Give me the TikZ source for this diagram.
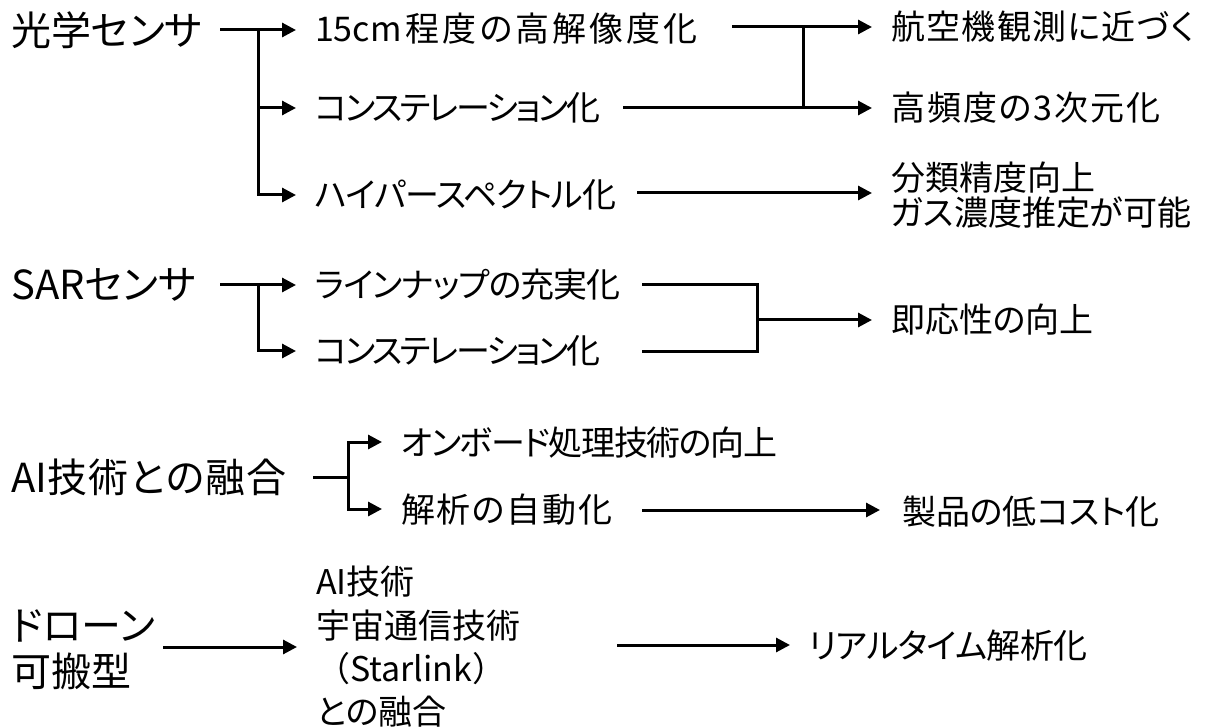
\documentclass[tikz,border=0pt]{standalone}
\usepackage{fontspec}
\setmainfont{Noto Sans CJK JP}[RawFeature={+palt}]
\newfontfamily\jpfull{Noto Sans CJK JP}
\usetikzlibrary{arrows.meta}
\newcommand{\ls}[1]{\addfontfeature{LetterSpace=#1}}
\tikzset{
  big/.style={font=\fontsize{40}{46}\selectfont, inner sep=0pt, anchor=west, text height=35pt, text depth=5pt},
  bigm/.style={font=\fontsize{40}{46}\selectfont, inner sep=0pt, anchor=west, align=left},
  mid/.style={font=\fontsize{34}{40}\selectfont, inner sep=0pt, anchor=west, text height=30pt, text depth=4pt},
  midm/.style={inner sep=0pt, anchor=west, align=left},
  tx/.style={outer xsep=19pt},
  conn/.style={line width=3pt, line join=miter},
  arr/.style={conn, -{Triangle[length=14pt,width=14pt]}},
}
\begin{document}
\begin{tikzpicture}[x=1pt,y=-1pt]
\useasboundingbox (0,0) rectangle (1208,727);
% ---------- row 1: optical sensor
\node[big] (n1) at (11,31) {光学センサ};
\node[mid,tx] (t1a) at (296,29) {15cm\hspace{4pt}{\ls{9}程度の高解像度化}};
\node[mid,tx] (t1b) at (296,108) {\ls{-7}コンステレーション化};
\node[mid,tx] (t1c) at (296,195) {\ls{-3}ハイパースペクトル化};
\coordinate (s1) at (220,30);
\coordinate (j1) at (258,30);
\draw[arr] (s1) -- (s1 -| t1a.west);
\draw[arr] (j1) |- (t1c.west);
\draw[arr] (j1 |- t1b.west) -- (t1b.west);
\node[mid,tx] (r1a) at (872,27) {\ls{4}航空機観測に近づく};
\node[mid,tx] (r1b) at (872,108) {\ls{6}高頻度の3次元化};
\node[midm,tx,font=\fontsize{34}{35}\selectfont] (r1c) at (872,195) {分類精度向上\\ガス濃度推定が可能};
\coordinate (a1) at (732,27);
\coordinate (b1) at (623,108);
\coordinate (m1) at (803,27);
\coordinate (c1) at (637,193);
\draw[arr] (a1) -- (a1 -| r1a.west);
\draw[arr] (b1) -- (b1 -| r1b.west);
\draw[conn] (m1) -- (m1 |- b1);
\draw[arr] (c1) -- (c1 -| r1c.west);
% ---------- row 2: SAR sensor
\node[big] (n2) at (11,285) {SARセンサ};
\node[mid,tx] (t2a) at (296,285) {\ls{-3}ラインナップの充実化};
\node[mid,tx] (t2b) at (296,351) {\ls{-7}コンステレーション化};
\coordinate (s2) at (220,285);
\coordinate (j2) at (258,285);
\draw[arr] (s2) -- (s2 -| t2a.west);
\draw[arr] (j2) |- (t2b.west);
\coordinate (u2) at (642,285);
\coordinate (l2) at (642,352);
\coordinate (v2) at (757,285);
\draw[conn] (u2) -- (v2) -- (v2 |- l2) -- (l2);
\node[mid,tx] (r2) at (872,320) {即応性の向上};
\draw[arr] (v2 |- r2.west) -- (r2.west);
% ---------- row 3: AI
\node[big] (n3) at (11,477) {AI{\ls{3}技術との融合}};
\node[mid,tx] (t3a) at (382,442) {\ls{-4}オンボード処理技術の向上};
\node[mid,tx] (t3b) at (382,509) {\ls{5}解析の自動化};
\coordinate (s3) at (313,477);
\coordinate (j3) at (348,477);
\draw[conn] (s3) -- (j3);
\draw[arr] (j3) |- (t3a.west);
\draw[arr] (j3) |- (t3b.west);
\node[mid,outer xsep=22pt] (r3) at (880,511) {製品の低コスト化};
\coordinate (c3) at (642,510);
\draw[arr] (c3) -- (c3 -| r3.west);
% ---------- row 4: drone
\node[bigm] (n4) at (11,650) {ドローン\\可搬型};
\node[midm,tx,font=\fontsize{34}{43.3}\selectfont] (t4) at (297,647) {AI技術\\宇宙通信技術\\{\jpfull （Starlink）}\\との融合};
\coordinate (s4) at (163,647);
\draw[arr] (s4) -- (s4 -| t4.west);
\node[mid,tx] (r4) at (790,645) {\ls{-2}リアルタイム解析化};
\coordinate (c4) at (617,645);
\draw[arr] (c4) -- (c4 -| r4.west);
\end{tikzpicture}
\end{document}
